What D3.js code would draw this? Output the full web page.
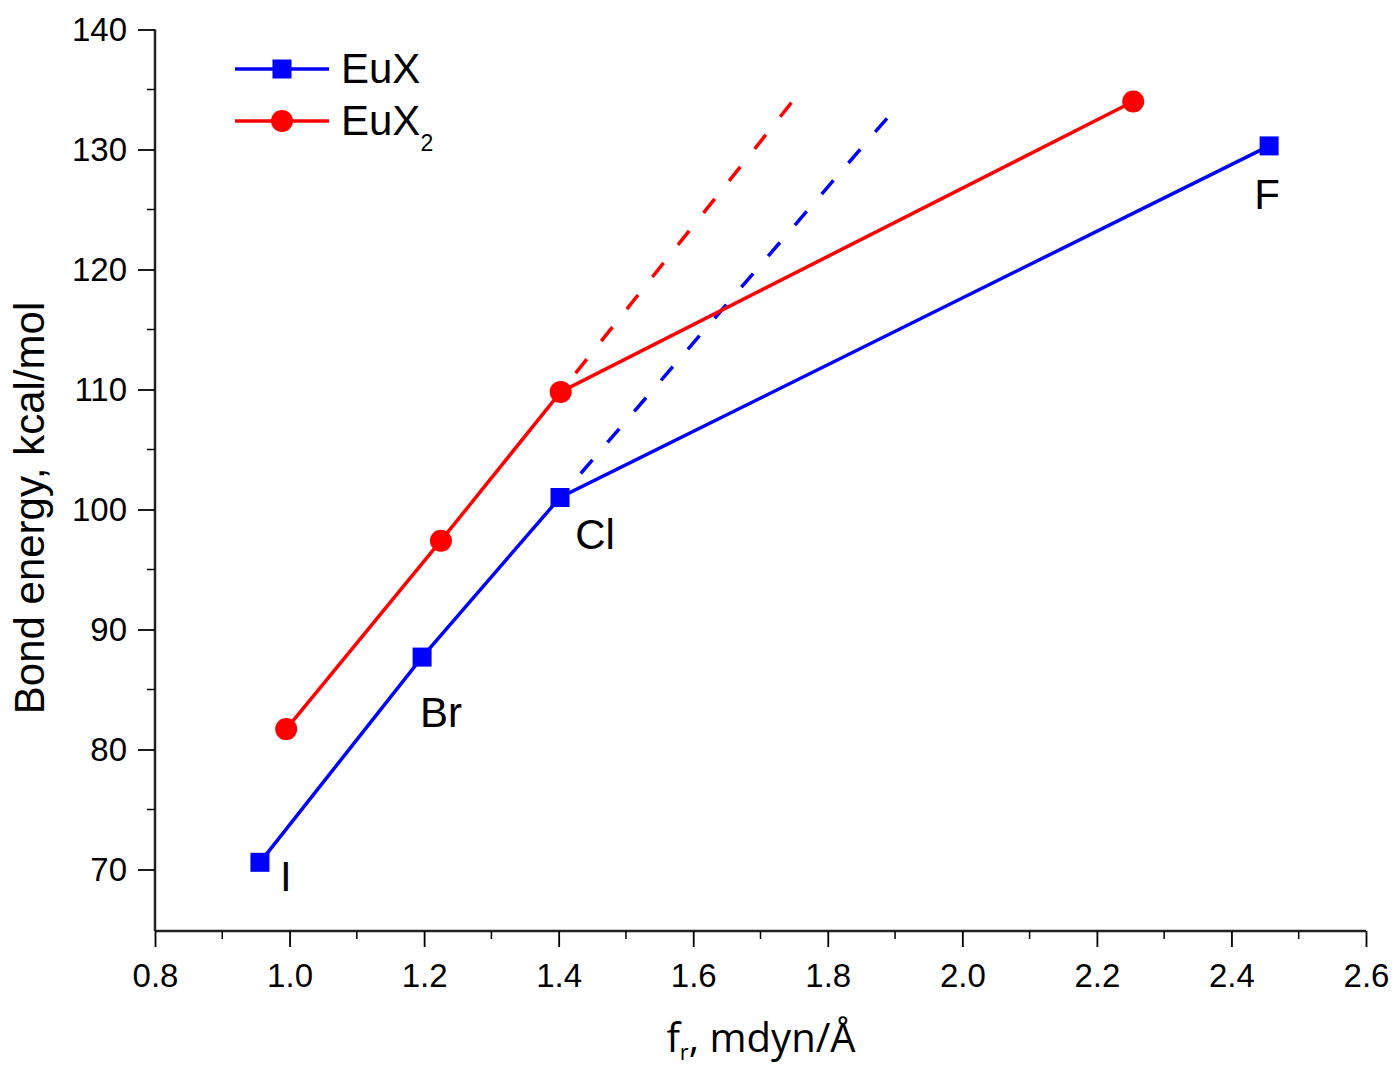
<!DOCTYPE html>
<html>
<head>
<meta charset="utf-8">
<script src="https://d3js.org/d3.v7.min.js"></script>
<style>
  body { margin: 0; background: #fff; }
  text { font-family: "Liberation Sans", Arial, sans-serif; fill: #000; }
</style>
</head>
<body>
<script>
// data
var halogens = ["I", "Br", "Cl", "F"];
var euxF = [0.956, 1.197, 1.402, 2.456];
var euxE = [70.6, 87.7, 101.0, 130.3];
var eux2F = [0.995, 1.225, 1.403, 2.254];
var eux2E = [81.7, 97.4, 109.8, 134.0];
// dashed extrapolations from the Cl point
var euxDashF = [1.402, 1.888];
var euxDashE = [101.0, 132.6];
var eux2DashF = [1.403, 1.746];
var eux2DashE = [109.8, 133.9];
var xTicks = [0.8, 1.0, 1.2, 1.4, 1.6, 1.8, 2.0, 2.2, 2.4, 2.6];
var yTicks = [70, 80, 90, 100, 110, 120, 130, 140];

var W = 1395, H = 1070;
var svg = d3.select("body").append("svg").attr("width", W).attr("height", H);

var x = d3.scaleLinear().domain([0.8, 2.6]).range([155, 1366]);
var y = d3.scaleLinear().domain([65, 140]).range([929.5, 29.5]);

// axes
var xAxis = d3.axisBottom(x).tickValues(xTicks).tickSize(16).tickPadding(17)
  .tickFormat(d3.format(".1f"));
var gx = svg.append("g").attr("transform", "translate(0,931)").call(xAxis);
gx.selectAll("text").style("font-size", "33px");
gx.append("g").selectAll("line").data(d3.range(0.9, 2.6, 0.2)).enter().append("line")
  .attr("x1", function(d){ return x(d); }).attr("x2", function(d){ return x(d); })
  .attr("y1", 0).attr("y2", 8).attr("stroke", "#000").attr("stroke-width", 1.5);

var yAxis = d3.axisLeft(y).tickValues(yTicks).tickSize(17).tickPadding(11);
var gy = svg.append("g").attr("transform", "translate(155,0)").call(yAxis);
gy.selectAll("text").style("font-size", "33px");
gy.append("g").selectAll("line").data(d3.range(75, 140, 10)).enter().append("line")
  .attr("x1", -8).attr("x2", 0)
  .attr("y1", function(d){ return y(d); }).attr("y2", function(d){ return y(d); })
  .attr("stroke", "#000").attr("stroke-width", 1.5);

[gx, gy].forEach(function(g){
  g.select(".domain").attr("stroke-width", 2.5).attr("stroke", "#222");
  g.selectAll(".tick line").attr("stroke-width", 1.8);
});
// keep the axis lines only to the plot extent
gx.select(".domain").attr("d", "M155,0H1366");
gy.select(".domain").attr("d", "M0,29.5V931");

// titles
svg.append("text").attr("transform", "translate(44,508) rotate(-90)")
  .attr("text-anchor", "middle").style("font-size", "42px")
  .text("Bond energy, kcal/mol");
var xt = svg.append("text").attr("x", 761).attr("y", 1052).attr("text-anchor", "middle")
  .style("font-family", "'Open Sans', sans-serif").style("font-size", "40px");
xt.append("tspan").text("f");
xt.append("tspan").attr("dy", 8).style("font-size", "22px").text("r");
xt.append("tspan").attr("dy", -8).text(", mdyn/Å");

var line = d3.line().x(function(d){ return x(d[0]); }).y(function(d){ return y(d[1]); });
function pts(a, b) { return a.map(function(v, i){ return [v, b[i]]; }); }

// dashed extrapolations (drawn from the far end so the dash pattern starts there)
svg.append("path").datum(pts(euxDashF, euxDashE).reverse()).attr("d", line)
  .attr("fill", "none").attr("stroke", "#0000ff").attr("stroke-width", 3.5)
  .attr("stroke-dasharray", "18,23").attr("stroke-dashoffset", 0);
svg.append("path").datum(pts(eux2DashF, eux2DashE).reverse()).attr("d", line)
  .attr("fill", "none").attr("stroke", "#ff0000").attr("stroke-width", 3.5)
  .attr("stroke-dasharray", "18,23").attr("stroke-dashoffset", 0);

// EuX2 series
svg.append("path").datum(pts(eux2F, eux2E)).attr("d", line)
  .attr("fill", "none").attr("stroke", "#ff0000").attr("stroke-width", 3.5);
svg.selectAll("circle.eux2").data(pts(eux2F, eux2E)).enter().append("circle")
  .attr("cx", function(d){ return x(d[0]); }).attr("cy", function(d){ return y(d[1]); })
  .attr("r", 11).attr("fill", "#ff0000");

// EuX series
svg.append("path").datum(pts(euxF, euxE)).attr("d", line)
  .attr("fill", "none").attr("stroke", "#0000ff").attr("stroke-width", 3.5);
svg.selectAll("rect.eux").data(pts(euxF, euxE)).enter().append("rect")
  .attr("x", function(d){ return x(d[0]) - 9.5; }).attr("y", function(d){ return y(d[1]) - 9.5; })
  .attr("width", 19).attr("height", 19).attr("fill", "#0000ff");

// halogen labels (offsets from the EuX point)
var labelOff = [[26, 29], [19, 70], [35, 51], [-2, 63]];
svg.selectAll("text.hal").data(halogens).enter().append("text")
  .attr("x", function(d, i){ return x(euxF[i]) + labelOff[i][0]; })
  .attr("y", function(d, i){ return y(euxE[i]) + labelOff[i][1]; })
  .attr("text-anchor", "middle").style("font-size", "42px")
  .text(function(d){ return d; });

// legend
var lg = svg.append("g");
lg.append("line").attr("x1", 235).attr("x2", 329).attr("y1", 69).attr("y2", 69)
  .attr("stroke", "#0000ff").attr("stroke-width", 3.5);
lg.append("rect").attr("x", 272.5).attr("y", 59.5).attr("width", 19).attr("height", 19).attr("fill", "#0000ff");
lg.append("text").attr("x", 341).attr("y", 83).style("font-size", "42px").text("EuX");
lg.append("line").attr("x1", 235).attr("x2", 329).attr("y1", 121).attr("y2", 121)
  .attr("stroke", "#ff0000").attr("stroke-width", 3.5);
lg.append("circle").attr("cx", 282).attr("cy", 121).attr("r", 11).attr("fill", "#ff0000");
var t2 = lg.append("text").attr("x", 341).attr("y", 135).style("font-size", "42px");
t2.append("tspan").text("EuX");
t2.append("tspan").attr("dy", 16).style("font-size", "23px").text("2");
</script>
</body>
</html>
